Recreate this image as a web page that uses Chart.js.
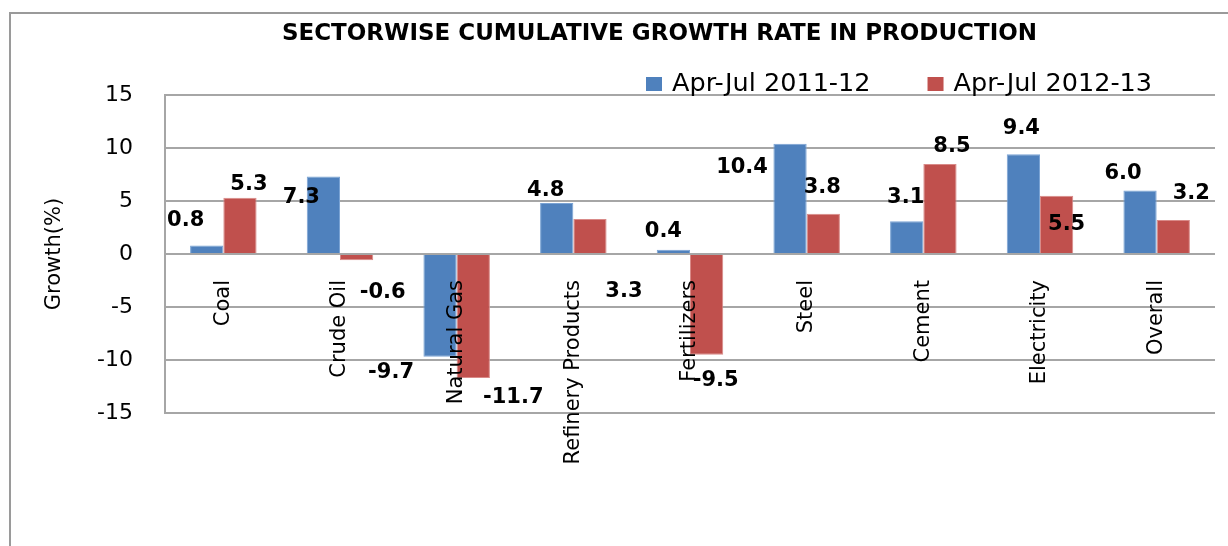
<!DOCTYPE html>
<html>
<head>
<meta charset="utf-8">
<script src="https://cdn.jsdelivr.net/npm/chart.js@4/dist/chart.umd.min.js"></script>
<style>
  html, body { margin: 0; padding: 0; background: #fff; }
  #wrap { position: relative; width: 1228px; height: 546px; }
  #frame { position: absolute; left: 9px; top: 12px; right: 0; bottom: 0;
           border-left: 2px solid #9a9a9a; border-top: 2px solid #9a9a9a; }
  canvas { position: absolute; left: 0; top: 0; }
</style>
</head>
<body>
<div id="wrap">
  <div id="frame"></div>
  <canvas id="growthChart" width="1228" height="546"></canvas>
</div>
<script>
// data
const sectors = ['Coal', 'Crude Oil', 'Natural Gas', 'Refinery Products', 'Fertilizers',
                 'Steel', 'Cement', 'Electricity', 'Overall'];
const growth2011 = [0.8, 7.3, -9.7, 4.8, 0.4, 10.4, 3.1, 9.4, 6.0];
const growth2012 = [5.3, -0.6, -11.7, 3.3, -9.5, 3.8, 8.5, 5.5, 3.2];
const yTicks = [-15, -10, -5, 0, 5, 10, 15];

const FONT = "'DejaVu Sans', sans-serif";

// Excel put the value labels in slightly odd spots; nudge each one (dx, dy) from the bar end
const labelNudge = [
  [[-21, -25], [-22, 21], [-49, 16], [-11, -13], [-10, -18], [-48, 24], [-1, -24], [-2, -26], [-17, -17]],
  [[9, -13], [26, 32], [40, 20], [34, 73], [9, 26], [-1, -26], [12, -17], [10, 29], [18, -27]]
];

const valueLabels = {
  id: 'valueLabels',
  afterDatasetsDraw(chart) {
    const ctx = chart.ctx;
    ctx.save();
    ctx.font = 'bold 21px ' + FONT;
    ctx.fillStyle = '#000';
    ctx.textAlign = 'center';
    ctx.textBaseline = 'middle';
    chart.data.datasets.forEach((ds, di) => {
      chart.getDatasetMeta(di).data.forEach((bar, i) => {
        const [dx, dy] = labelNudge[di][i];
        ctx.fillText(ds.data[i].toFixed(1), bar.x + dx, bar.y + dy);
      });
    });
    ctx.restore();
  }
};

// legend sits to the right above the plot, with a wide gap between entries
const topLegend = {
  id: 'topLegend',
  afterDraw(chart) {
    const ctx = chart.ctx;
    ctx.save();
    ctx.font = '25.5px ' + FONT;
    ctx.textBaseline = 'middle';
    let x = 646;
    const y = 84;
    chart.data.datasets.forEach(ds => {
      ctx.fillStyle = ds.backgroundColor;
      ctx.fillRect(x, y - 7, 16, 14);
      ctx.fillStyle = '#000';
      ctx.fillText(ds.label, x + 26, y);
      x += 26 + ctx.measureText(ds.label).width + 57;
    });
    ctx.restore();
  }
};

// Excel centred the title a bit right of the canvas middle
const shiftTitle = {
  id: 'shiftTitle',
  afterLayout(chart) {
    chart.titleBlock.left += 92;
  }
};

new Chart(document.getElementById('growthChart'), {
  type: 'bar',
  data: {
    labels: sectors,
    datasets: [
      {
        label: 'Apr-Jul 2011-12',
        data: growth2011,
        backgroundColor: '#4F81BD',
        borderColor: '#7aa3d4',
        borderWidth: 1
      },
      {
        label: 'Apr-Jul 2012-13',
        data: growth2012,
        backgroundColor: '#C0504D',
        borderColor: '#d98a88',
        borderWidth: 1
      }
    ]
  },
  options: {
    responsive: false,
    animation: false,
    layout: { padding: { left: 12, right: 13, top: 0, bottom: 133 } },
    datasets: {
      bar: { categoryPercentage: 0.57, barPercentage: 1.0 }
    },
    plugins: {
      legend: { display: false },
      tooltip: { enabled: false },
      title: {
        display: true,
        text: 'SECTORWISE CUMULATIVE GROWTH RATE IN PRODUCTION',
        color: '#000',
        font: { family: FONT, size: 23, weight: 'bold', lineHeight: 1.2 },
        padding: { top: 20, bottom: 47.4 }
      }
    },
    scales: {
      x: {
        position: { y: 0 },
        grid: { display: false },
        border: { display: false },
        ticks: {
          z: 1,
          color: '#000',
          font: { family: FONT, size: 21 },
          minRotation: 90,
          maxRotation: 90,
          autoSkip: false,
          padding: 18
        }
      },
      y: {
        min: -15,
        max: 15,
        afterBuildTicks: s => { s.ticks = yTicks.map(v => ({ value: v })); },
        afterFit: s => { s.width = 165 - 12; },
        grid: { color: '#a6a6a6', lineWidth: 2, drawTicks: false },
        border: { display: true, color: '#a6a6a6', width: 2 },
        ticks: {
          color: '#000',
          font: { family: FONT, size: 22 },
          padding: 32
        },
        title: {
          display: true,
          text: 'Growth(%)',
          color: '#000',
          font: { family: FONT, size: 21 },
          padding: { top: 30, bottom: 0 }
        }
      }
    }
  },
  plugins: [valueLabels, topLegend, shiftTitle]
});
</script>
</body>
</html>
